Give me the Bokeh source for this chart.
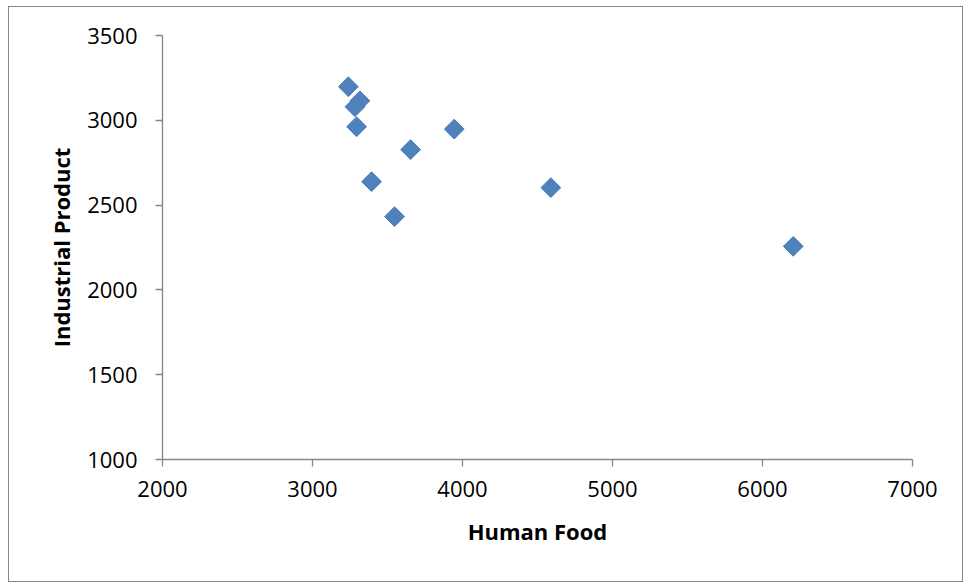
from bokeh.plotting import figure
from bokeh.layouts import column
from bokeh.models import Range1d, FixedTicker, ColumnDataSource
from bokeh.embed import file_html
from bokeh.resources import INLINE
import math

# Data
human_food = [3239, 3316, 3283, 3294, 3945, 3654, 3394, 3547, 4589, 6205]
industrial_product = [3198, 3115, 3080, 2962, 2948, 2827, 2638, 2432, 2603, 2257]
x_ticks = [2000, 3000, 4000, 5000, 6000, 7000]
y_ticks = [1000, 1500, 2000, 2500, 3000, 3500]

src = ColumnDataSource(dict(x=human_food, y=industrial_product))

p = figure(
    output_backend="svg", toolbar_location=None,
    frame_width=750, frame_height=424,
    min_border_left=153, min_border_right=50,
    min_border_top=28, min_border_bottom=122,
    x_range=Range1d(2000, 7000), y_range=Range1d(1000, 3500),
    background_fill_color="white", border_fill_color="white",
)
p.outline_line_color = None
p.xgrid.visible = False
p.ygrid.visible = False

p.scatter("x", "y", source=src, marker="square", size=14, angle=math.pi / 4,
          fill_color="#4F81BD", line_color="#4A7EBB", line_width=1)

AX = "#868686"
FONT = "Open Sans"
for ax, ticks in ((p.xaxis[0], x_ticks), (p.yaxis[0], y_ticks)):
    ax.ticker = FixedTicker(ticks=ticks)
    ax.minor_tick_line_color = None
    ax.axis_line_color = AX
    ax.axis_line_width = 1.3
    ax.major_tick_line_color = AX
    ax.major_tick_line_width = 1.3
    ax.major_tick_in = 0
    ax.major_tick_out = 7
    ax.major_label_text_font = FONT
    ax.major_label_text_font_size = "22px"
    ax.major_label_text_color = "black"
    ax.axis_label_text_font = FONT
    ax.axis_label_text_font_size = "22px"
    ax.axis_label_text_font_style = "bold"
    ax.axis_label_text_color = "black"

p.xaxis.axis_label = "Human Food"
p.yaxis.axis_label = "Industrial Product"
p.xaxis.major_label_standoff = 14
p.yaxis.major_label_standoff = 18
p.xaxis.axis_label_standoff = 16
p.yaxis.axis_label_standoff = 8

layout = column(p, styles={"border": "1px solid " + AX,
                           "margin-left": "8px", "margin-top": "6px"})

open("out.html", "w").write(file_html(layout, INLINE))
